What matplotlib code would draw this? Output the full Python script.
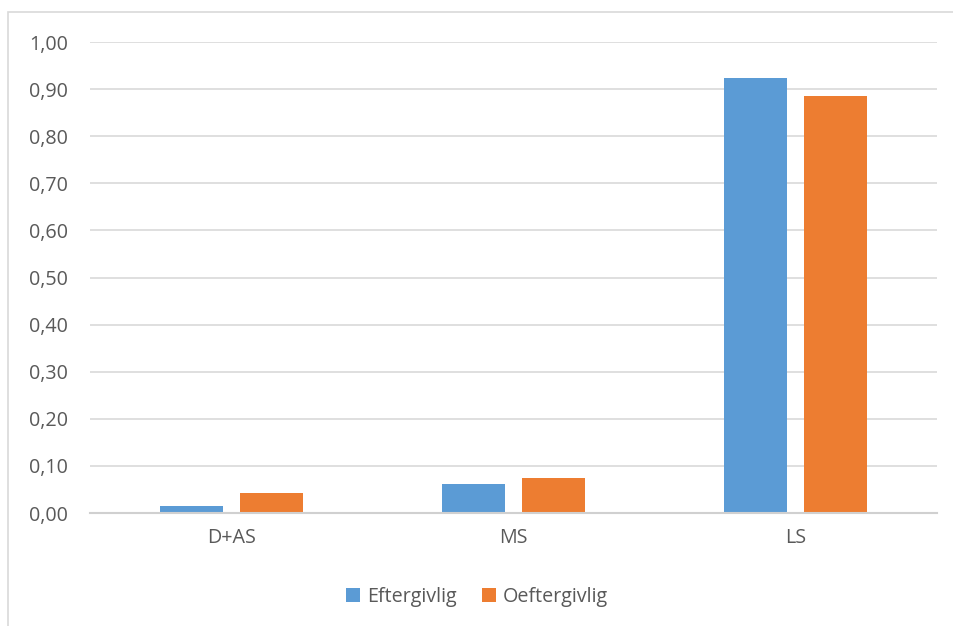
import matplotlib.pyplot as plt
from matplotlib.patches import Rectangle
import numpy as np

categories = ["D+AS", "MS", "LS"]
eftergivlig = [0.015, 0.062, 0.924]
oeftergivlig = [0.042, 0.074, 0.886]
yticks = [0.0, 0.1, 0.2, 0.3, 0.4, 0.5, 0.6, 0.7, 0.8, 0.9, 1.0]

plt.rcParams['font.family'] = ['Open Sans', 'DejaVu Sans']

fig = plt.figure(figsize=(9.54, 6.26), dpi=100)
ax = fig.add_axes([90 / 954, 113 / 626, 847 / 954, 471 / 626])

# chart border
fig.patches.append(Rectangle((8 / 954, -0.01), 1.0, 1 - 12 / 626 + 0.01,
                             transform=fig.transFigure, fill=False,
                             edgecolor="#D9D9D9", linewidth=1.2))

x = np.arange(len(categories))
w = 0.223
off = (w + 17 / 282) / 2
ax.bar(x - off, eftergivlig, w, color="#5B9BD5", label="Eftergivlig", zorder=3)
ax.bar(x + off, oeftergivlig, w, color="#ED7D31", label="Oeftergivlig", zorder=3)

ax.set_xlim(-0.5, 2.5)
ax.set_ylim(0, 1.0)
ax.set_yticks(yticks)
ax.set_yticklabels([f"{v:.2f}".replace(".", ",") for v in yticks])
ax.set_xticks(x)
ax.set_xticklabels(categories)
ax.grid(axis="y", color="#D9D9D9", linewidth=1.2, zorder=0)
for s in ["top", "right", "left"]:
    ax.spines[s].set_visible(False)
ax.spines["bottom"].set_color("#D0D0D0")
ax.spines["bottom"].set_linewidth(1.5)
ax.spines["bottom"].set_zorder(4)
ax.tick_params(axis="both", length=0, labelsize=14.2, colors="#595959")
ax.tick_params(axis="y", pad=16)
ax.tick_params(axis="x", pad=11)

fig.legend(loc="center", bbox_to_anchor=(0.5, 1 - 597 / 626), ncol=2, frameon=False,
           fontsize=14.2, handlelength=0.7, handleheight=0.7, columnspacing=1.3,
           handletextpad=0.35, labelcolor="#595959")

fig.savefig("out.png", dpi=100)
